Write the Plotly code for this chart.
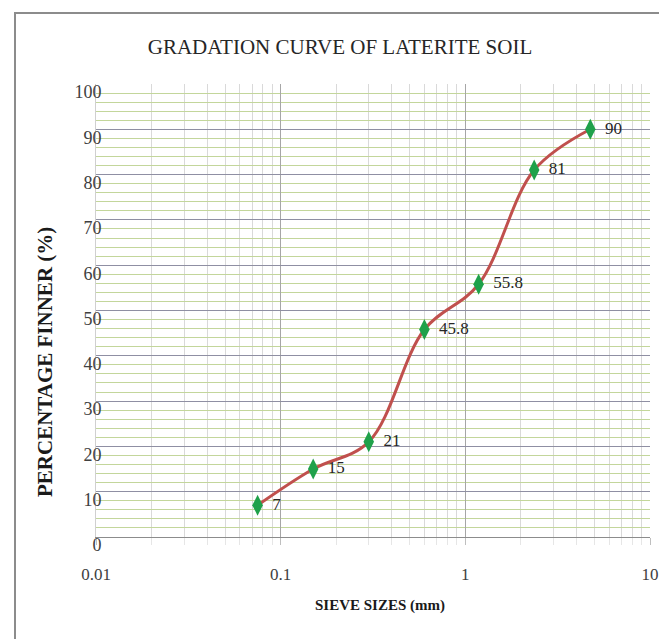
import plotly.graph_objects as go

sieve_sizes = [0.075, 0.15, 0.3, 0.6, 1.18, 2.36, 4.75]
percent_finer = [7, 15, 21, 45.8, 55.8, 81, 90]
point_labels = ["7", "15", "21", "45.8", "55.8", "81", "90"]
x_tick_vals = [0.01, 0.1, 1, 10]
x_tick_text = ["0.01", "0.1", "1", "10"]
y_tick_vals = list(range(0, 101, 10))
x_minor_vals = [m * d for d in (0.01, 0.1, 1) for m in range(2, 10)]

SERIF = "Liberation Serif, Times New Roman, serif"

# page body has an 8px margin: figure is laid out in its own coordinates
W, H = 659, 631
L, R, T, B = 88, 17, 76, 102
PW, PH = W - L - R, H - T - B


def px(x):
    return (x - 8 - L) / PW


def py(y):
    return (H - B - (y - 8)) / PH


fig = go.Figure()
fig.add_trace(go.Scatter(
    x=sieve_sizes, y=percent_finer,
    mode="lines+markers+text",
    text=point_labels, texttemplate=" %{text}", textposition="middle right",
    textfont=dict(family=SERIF, size=17, color="#262626"),
    line=dict(color="#c0504d", width=3, shape="spline", smoothing=1),
    marker=dict(symbol="diamond-tall", size=15, color="#1fa14a"),
    cliponaxis=False, showlegend=False,
))

fig.update_layout(
    width=W, height=H,
    margin=dict(l=L, r=R, t=T, b=B),
    paper_bgcolor="white", plot_bgcolor="white",
    title=dict(text="GRADATION CURVE OF LATERITE SOIL",
               x=(340 - 8) / W, xanchor="center", xref="container",
               y=1 - (47 - 8) / H, yanchor="middle", yref="container",
               font=dict(family=SERIF, size=21, color="#262626")),
    xaxis=dict(type="log", range=[-2, 1], automargin=False,
               tickvals=x_tick_vals, ticktext=x_tick_text,
               tickfont=dict(family=SERIF, size=17, color="#404040"),
               ticks="outside", ticklen=7, tickcolor="#bfbfbf",
               ticklabelstandoff=15,
               showgrid=True, gridcolor="#a6a6a6", gridwidth=1,
               minor=dict(showgrid=True, tickvals=x_minor_vals, gridcolor="#d9d9d9", gridwidth=1,
                          ticks="outside", ticklen=7, tickcolor="#e6e6e6"),
               showline=True, linecolor="#8c8c8c", linewidth=1,
               zeroline=False),
    yaxis=dict(range=[0, 100], tickvals=y_tick_vals, automargin=False,
               tickfont=dict(family=SERIF, size=18, color="#404040"),
               ticks="", ticklabelstandoff=-10, ticklabelshift=8,
               showgrid=True, gridcolor="#8f8fa3", gridwidth=1,
               minor=dict(showgrid=True, dtick=2, gridcolor="#c3d69b", gridwidth=1),
               showline=True, linecolor="#d0d0d0", linewidth=1,
               zeroline=False),
    shapes=[dict(type="rect", xref="paper", yref="paper",
                 x0=px(15), x1=px(664), y0=py(660), y1=py(13),
                 line=dict(color="#8c8c8c", width=2), layer="below")],
    annotations=[
        dict(text="<b>SIEVE SIZES (mm)</b>", xref="paper", yref="paper",
             x=px(380), y=py(605), showarrow=False,
             xanchor="center", yanchor="middle",
             font=dict(family=SERIF, size=15, color="#1a1a1a")),
        dict(text="<b>PERCENTAGE FINNER (%)</b>", xref="paper", yref="paper",
             x=px(45), y=py(362), showarrow=False,
             textangle=-90, xanchor="center", yanchor="middle",
             font=dict(family=SERIF, size=21, color="#1a1a1a")),
    ],
)

fig.write_html("out.html")
